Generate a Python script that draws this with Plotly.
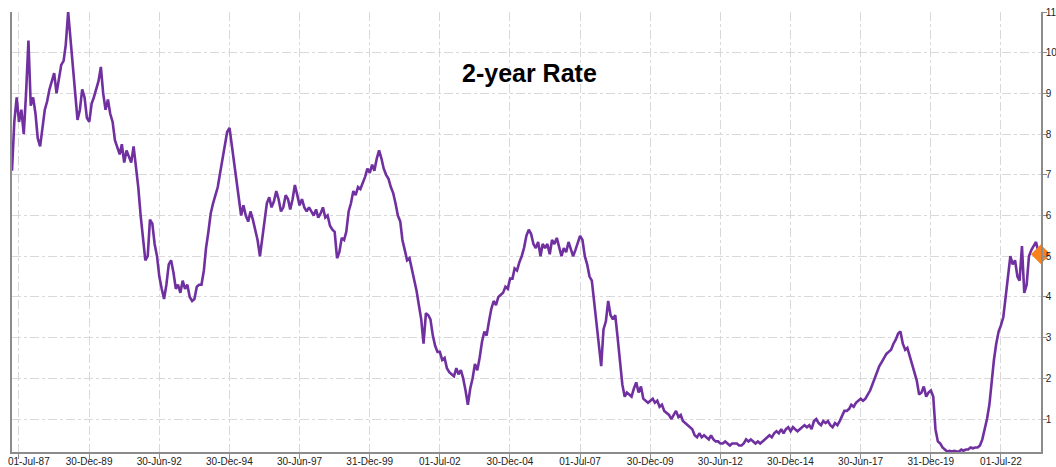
import pandas as pd
import plotly.graph_objects as go

# Monthly 2-year rate readings, starting April 1987
start_month = "1987-04-01"
rate_1987 = [7.1, 8.3, 8.9, 8.3, 8.6, 8.0, 9.0, 10.3, 8.7]
rate_1988 = [8.9, 8.5, 7.9, 7.7, 8.1, 8.6, 8.8, 9.1, 9.3, 9.5, 9.0, 9.4]
rate_1989 = [9.7, 9.8, 10.2, 11.0, 10.3, 9.7, 8.85, 8.35, 8.6, 9.1, 8.9, 8.4]
rate_1990 = [8.3, 8.75, 8.9, 9.1, 9.3, 9.65, 9.0, 8.6, 8.85, 8.5, 8.3, 7.85]
rate_1991 = [7.7, 7.5, 7.75, 7.3, 7.6, 7.45, 7.3, 7.7, 7.2, 6.7, 6.0, 5.4]
rate_1992 = [4.9, 5.0, 5.9, 5.8, 5.3, 5.0, 4.5, 4.2, 3.95, 4.3, 4.8, 4.9]
rate_1993 = [4.6, 4.2, 4.3, 4.1, 4.4, 4.2, 4.3, 4.0, 3.9, 3.95, 4.25, 4.3]
rate_1994 = [4.3, 4.65, 5.2, 5.6, 6.05, 6.3, 6.5, 6.7, 7.05, 7.4, 7.75, 8.05]
rate_1995 = [8.15, 7.7, 7.2, 6.85, 6.4, 6.0, 6.25, 6.0, 5.85, 6.1, 5.9, 5.65]
rate_1996 = [5.4, 5.0, 5.4, 5.85, 6.3, 6.45, 6.2, 6.35, 6.6, 6.4, 6.1, 6.2]
rate_1997 = [6.5, 6.4, 6.15, 6.4, 6.75, 6.5, 6.25, 6.4, 6.2, 6.1, 6.2, 6.1]
rate_1998 = [6.0, 6.15, 5.95, 6.05, 6.2, 5.95, 6.0, 5.75, 5.65, 5.6, 4.95, 5.1]
rate_1999 = [5.45, 5.4, 5.6, 6.1, 6.3, 6.6, 6.5, 6.7, 6.65, 6.8, 6.95, 7.15]
rate_2000 = [7.05, 7.25, 7.1, 7.4, 7.6, 7.4, 7.15, 7.0, 6.9, 6.7, 6.55, 6.3]
rate_2001 = [6.0, 5.85, 5.4, 5.15, 4.9, 4.95, 4.7, 4.4, 4.15, 3.8, 3.45, 2.85]
rate_2002 = [3.6, 3.55, 3.45, 3.05, 2.8, 2.65, 2.65, 2.45, 2.5, 2.25, 2.15, 2.1]
rate_2003 = [2.05, 2.25, 2.1, 2.2, 2.0, 1.7, 1.35, 1.75, 2.0, 2.35, 2.2, 2.5]
rate_2004 = [2.9, 3.15, 3.05, 3.4, 3.7, 3.9, 3.8, 4.0, 4.05, 4.1, 4.25, 4.2]
rate_2005 = [4.45, 4.45, 4.7, 4.65, 4.85, 5.0, 5.2, 5.5, 5.65, 5.55, 5.3, 5.2]
rate_2006 = [5.35, 5.0, 5.3, 5.2, 5.3, 5.05, 5.4, 5.3, 5.45, 5.25, 5.0, 5.2]
rate_2007 = [5.1, 5.35, 5.15, 5.0, 5.15, 5.35, 5.5, 5.4, 5.0, 4.8, 4.5, 4.4]
rate_2008 = [3.85, 3.2, 2.85, 2.3, 3.2, 3.4, 3.9, 3.55, 3.45, 3.55, 3.0, 2.45]
rate_2009 = [1.85, 1.55, 1.65, 1.6, 1.55, 1.75, 1.9, 1.65, 1.8, 1.5, 1.45, 1.4]
rate_2010 = [1.45, 1.5, 1.4, 1.45, 1.3, 1.35, 1.2, 1.15, 1.1, 1.0, 1.1, 1.2]
rate_2011 = [1.05, 1.1, 0.95, 0.9, 0.85, 0.8, 0.75, 0.6, 0.55, 0.65, 0.55, 0.6]
rate_2012 = [0.55, 0.5, 0.6, 0.5, 0.45, 0.45, 0.4, 0.4, 0.45, 0.4, 0.35, 0.4]
rate_2013 = [0.4, 0.4, 0.35, 0.35, 0.4, 0.5, 0.45, 0.5, 0.45, 0.4, 0.45, 0.4]
rate_2014 = [0.45, 0.5, 0.55, 0.6, 0.55, 0.65, 0.7, 0.65, 0.75, 0.65, 0.75, 0.8]
rate_2015 = [0.7, 0.8, 0.75, 0.7, 0.75, 0.8, 0.85, 0.8, 0.85, 0.75, 0.95, 1.0]
rate_2016 = [0.9, 0.85, 0.95, 0.9, 0.95, 0.85, 0.8, 0.9, 0.85, 0.95, 1.1, 1.2]
rate_2017 = [1.2, 1.25, 1.35, 1.3, 1.4, 1.45, 1.5, 1.45, 1.5, 1.6, 1.7, 1.85]
rate_2018 = [2.0, 2.2, 2.3, 2.4, 2.5, 2.6, 2.65, 2.7, 2.85, 2.95, 3.1, 3.15]
rate_2019 = [2.85, 2.7, 2.75, 2.55, 2.4, 2.15, 1.95, 1.6, 1.65, 1.8, 1.55, 1.65]
rate_2020 = [1.7, 1.55, 0.75, 0.45, 0.4, 0.3, 0.25, 0.2, 0.22, 0.2, 0.22, 0.2]
rate_2021 = [0.2, 0.25, 0.22, 0.25, 0.25, 0.3, 0.28, 0.3, 0.3, 0.35, 0.5, 0.75]
rate_2022 = [1.0, 1.35, 1.9, 2.45, 2.85, 3.15, 3.3, 3.5, 4.0, 4.5, 5.0, 4.8]
rate_2023 = [4.9, 4.5, 4.4, 5.25, 4.1, 4.3, 5.0, 5.15, 5.25, 5.35, 5.1, 5.05]

tick_dates = ["1987-07-01", "1989-12-30", "1992-06-30", "1994-12-30", "1997-06-30",
              "1999-12-31", "2002-07-01", "2004-12-30", "2007-07-01", "2009-12-30",
              "2012-06-30", "2014-12-30", "2017-06-30", "2019-12-31", "2022-07-01"]
tick_labels = ["01-Jul-87", "30-Dec-89", "30-Jun-92", "30-Dec-94", "30-Jun-97",
               "31-Dec-99", "01-Jul-02", "30-Dec-04", "01-Jul-07", "30-Dec-09",
               "30-Jun-12", "30-Dec-14", "30-Jun-17", "31-Dec-19", "01-Jul-22"]
y_ticks = list(range(1, 12))
title_text = "2-year Rate"

rates = (rate_1987 + rate_1988 + rate_1989 + rate_1990 + rate_1991 + rate_1992 +
         rate_1993 + rate_1994 + rate_1995 + rate_1996 + rate_1997 + rate_1998 +
         rate_1999 + rate_2000 + rate_2001 + rate_2002 + rate_2003 + rate_2004 +
         rate_2005 + rate_2006 + rate_2007 + rate_2008 + rate_2009 + rate_2010 +
         rate_2011 + rate_2012 + rate_2013 + rate_2014 + rate_2015 + rate_2016 +
         rate_2017 + rate_2018 + rate_2019 + rate_2020 + rate_2021 + rate_2022 +
         rate_2023)
dates = pd.date_range(start_month, periods=len(rates), freq="MS")

fig = go.Figure()
fig.add_trace(go.Scatter(
    x=dates, y=rates, mode="lines",
    line=dict(color="#7030A0", width=2.6),
    showlegend=False, hoverinfo="skip"))
fig.add_trace(go.Scatter(
    x=[dates[-1]], y=[rates[-1]], mode="markers",
    marker=dict(symbol="diamond", size=15, color="#F7821E"),
    showlegend=False, cliponaxis=False))

label_font = dict(family="Liberation Sans, Arial, sans-serif", size=10, color="#222222")

fig.update_layout(
    width=1056, height=467,
    margin=dict(l=12, r=15, t=12, b=15),
    paper_bgcolor="white", plot_bgcolor="white",
    font=label_font,
    xaxis=dict(
        type="date",
        range=["1987-04-01", "2023-12-05"],
        tickvals=tick_dates, ticktext=[""] + tick_labels[1:],
        tickangle=0,
        showgrid=True, gridcolor="#d9d9d9", griddash="dashdot", gridwidth=1,
        showline=True, linecolor="#8c8c8c", linewidth=1.5,
        ticks="outside", ticklen=5, tickcolor="#8c8c8c",
        ticklabelstandoff=-6,
        zeroline=False, automargin=False,
    ),
    yaxis=dict(
        side="right",
        range=[0.19, 11.0],
        tickvals=y_ticks,
        showgrid=True, gridcolor="#d9d9d9", griddash="dashdot", gridwidth=1,
        showline=True, mirror=True, linecolor="#8c8c8c", linewidth=1.5,
        ticks="outside", ticklen=4, tickcolor="#8c8c8c",
        ticklabelstandoff=-3, ticklabeloverflow="allow",
        zeroline=False, automargin=False,
    ),
    annotations=[
        dict(
            text="<b>" + title_text + "</b>", x=0.503, y=0.861,
            xref="paper", yref="paper", xanchor="center", yanchor="middle",
            showarrow=False,
            font=dict(family="Liberation Sans, Arial, sans-serif", size=25, color="#000000"),
        ),
        dict(
            text=tick_labels[0], x=tick_dates[0], y=0,
            xref="x", yref="paper", xanchor="center", yanchor="middle",
            xshift=10, yshift=-9, borderpad=0, showarrow=False, font=label_font,
        ),
    ],
)

fig.write_html("out.html")
